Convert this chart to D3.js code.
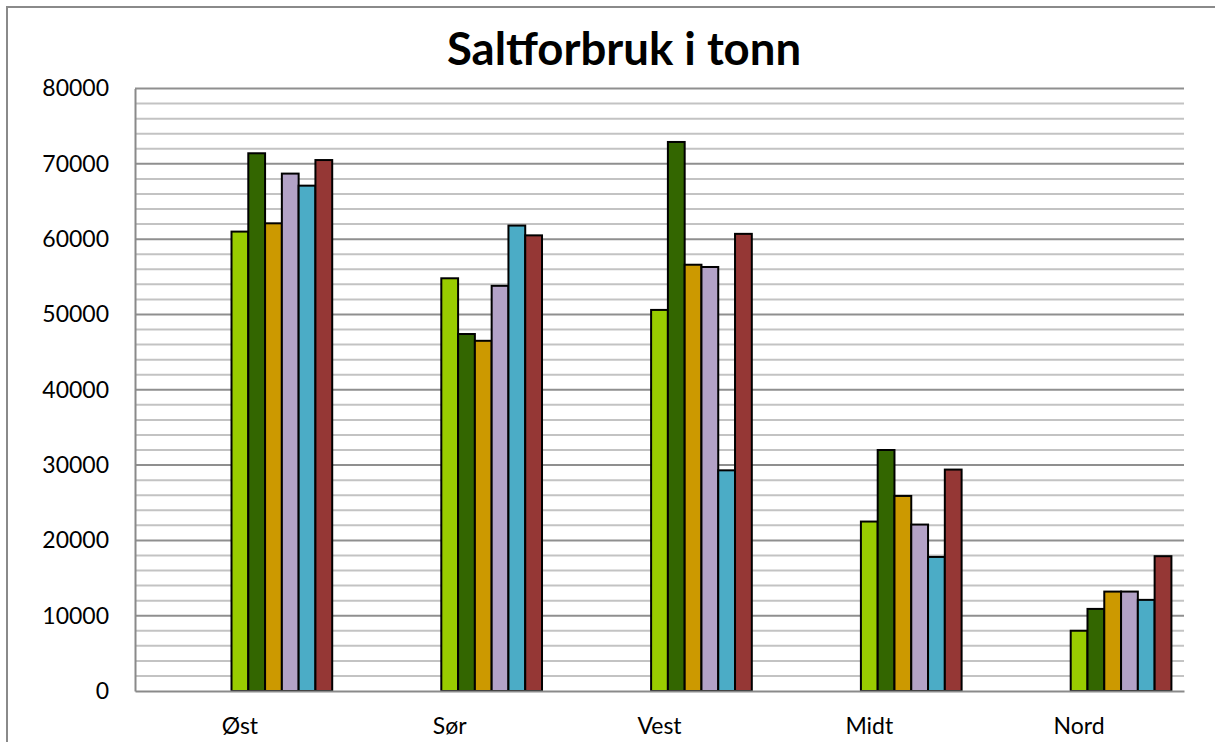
<!DOCTYPE html>
<html>
<head>
<meta charset="utf-8">
<script src="https://cdn.jsdelivr.net/npm/d3@7"></script>
<style>
  html, body { margin: 0; padding: 0; background: #fff; }
  svg { display: block; }
</style>
</head>
<body>
<svg id="chart" width="1215" height="742"></svg>
<script>
const title = "Saltforbruk i tonn";
const categories = ["Øst", "Sør", "Vest", "Midt", "Nord"];
const seriesNames = ["Serie 1", "Serie 2", "Serie 3", "Serie 4", "Serie 5", "Serie 6"];
const hiddenSeries = ["", "", "", "", ""]; // empty series slots shown before the visible ones
const serie1 = [61000, 54800, 50600, 22500, 8000];
const serie2 = [71400, 47400, 72900, 32000, 10900];
const serie3 = [62100, 46500, 56600, 25900, 13200];
const serie4 = [68700, 53800, 56300, 22100, 13200];
const serie5 = [67100, 61800, 29300, 17800, 12100];
const serie6 = [70500, 60500, 60700, 29400, 17900];
const seriesValues = [serie1, serie2, serie3, serie4, serie5, serie6];
const colors = ["#99cc00", "#336600", "#cc9900", "#b3a2c7", "#4bacc6", "#953735"];
const yTicks = [0, 10000, 20000, 30000, 40000, 50000, 60000, 70000, 80000];
const yMinorStep = 2000;

(function () {
const svg = d3.select("#chart");
const font = "Lato, 'Open Sans', sans-serif";
const plotLeft = 135, plotRight = 1184, plotTop = 88.5, plotBottom = 691;

// outer chart border
svg.append("rect").attr("x", 7).attr("y", 7).attr("width", 1400).attr("height", 900)
  .attr("fill", "none").attr("stroke", "#8a8a8a").attr("stroke-width", 2);

const x = d3.scaleBand().domain(categories).range([plotLeft, plotRight]).paddingInner(0).paddingOuter(0);
const slotKeys = hiddenSeries.map((d, i) => "h" + i).concat(seriesNames);
const xs = d3.scaleBand().domain(slotKeys).range([0, x.bandwidth()]).paddingInner(0).paddingOuter(0.75);
const y = d3.scaleLinear().domain([0, 80000]).range([plotBottom, plotTop]);

// minor gridlines
const minor = d3.range(0, 80001, yMinorStep).filter(v => v % 10000 !== 0);
svg.append("g").selectAll("line").data(minor).join("line")
  .attr("x1", plotLeft).attr("x2", plotRight)
  .attr("y1", d => y(d)).attr("y2", d => y(d))
  .attr("stroke", "#c3c3c3").attr("stroke-width", 2);

// major gridlines
svg.append("g").selectAll("line").data(yTicks.filter(v => v > 0)).join("line")
  .attr("x1", plotLeft).attr("x2", plotRight)
  .attr("y1", d => y(d)).attr("y2", d => y(d))
  .attr("stroke", "#8f8f8f").attr("stroke-width", 2);

// y axis
const yAxis = svg.append("g").attr("transform", `translate(${plotLeft},0)`)
  .call(d3.axisLeft(y).tickValues(yTicks).tickSize(0).tickPadding(26).tickFormat(d3.format("d")));
yAxis.select(".domain").attr("stroke", "#8a8a8a").attr("stroke-width", 2);
yAxis.selectAll("text").attr("font-family", font).attr("font-size", 23).attr("fill", "#000");

// bars
const barData = [];
seriesValues.forEach((vals, si) => {
  vals.forEach((v, ci) => barData.push({ s: seriesNames[si], si, c: categories[ci], v }));
});
svg.append("g").selectAll("rect").data(barData).join("rect")
  .attr("x", d => x(d.c) + xs(d.s))
  .attr("y", d => y(d.v))
  .attr("width", xs.bandwidth())
  .attr("height", d => y(0) - y(d.v))
  .attr("fill", d => colors[d.si])
  .attr("stroke", "#000").attr("stroke-width", 2);

// x axis
const xAxis = svg.append("g").attr("transform", `translate(0,${plotBottom})`)
  .call(d3.axisBottom(x).tickSize(0).tickPadding(27));
xAxis.select(".domain").attr("stroke", "#8a8a8a").attr("stroke-width", 2);
xAxis.selectAll("text").attr("font-family", font).attr("font-size", 23).attr("fill", "#000");

// title
svg.append("text").attr("x", 624).attr("y", 65).attr("text-anchor", "middle")
  .attr("font-family", font).attr("font-weight", "bold").attr("font-size", 45.5)
  .attr("fill", "#000").text(title);
})();
</script>
</body>
</html>
